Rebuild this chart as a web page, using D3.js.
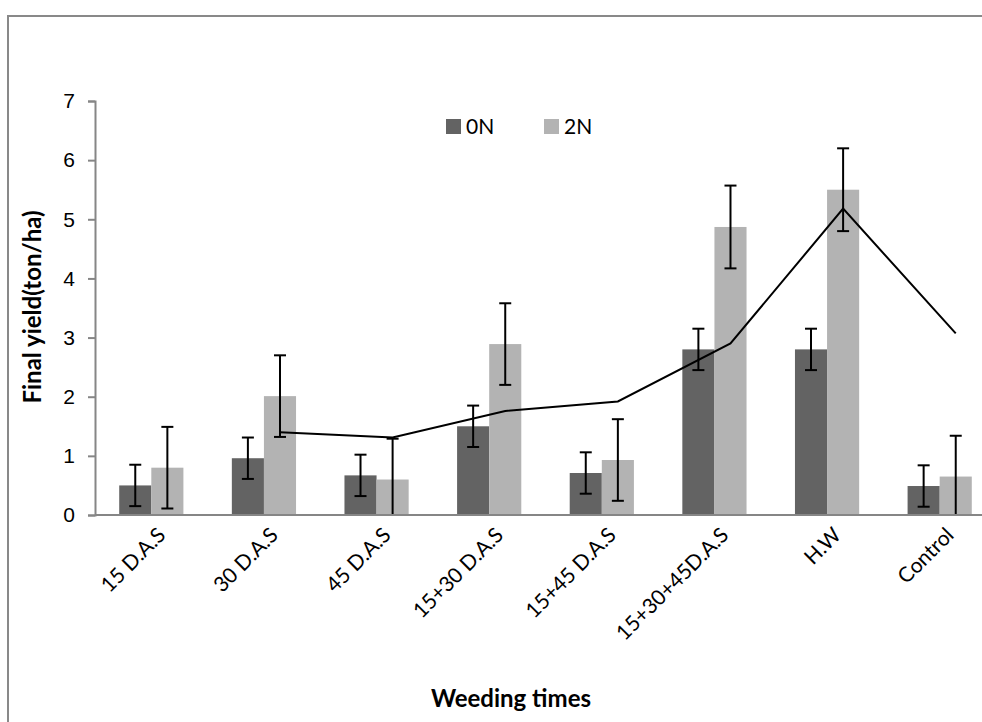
<!DOCTYPE html>
<html lang="en">

<head>
  <meta charset="UTF-8" />
  <title>Final yield by weeding times</title>
  <script src="https://d3js.org/d3.v7.min.js"></script>
  <style>
    body {
      margin: 0;
      background: #fff;
      font-family: Lato, "Open Sans", sans-serif;
    }

    .tick-label {
      font-size: 21px;
      fill: #000;
    }

    .axis-title {
      font-size: 24px;
      font-weight: bold;
      fill: #000;
    }
  </style>
</head>

<body>
  <div id="chart"></div>
  <script>
    // Values
    const categories = ["15 D.A.S", "30 D.A.S", "45 D.A.S", "15+30 D.A.S", "15+45 D.A.S",
      "15+30+45D.A.S", "H.W", "Control"];
    const seriesNames = ["0N", "2N"];
    const yield0N = [0.50, 0.96, 0.67, 1.50, 0.71, 2.80, 2.80, 0.49];
    const yield2N = [0.80, 2.01, 0.60, 2.89, 0.93, 4.87, 5.50, 0.65];
    const err0N = [0.35, 0.35, 0.35, 0.35, 0.35, 0.35, 0.35, 0.35];
    const err2N = [0.69, 0.69, 0.69, 0.69, 0.69, 0.70, 0.70, 0.69];
    // black trend line, plotted on the 2N bar positions (starts at 30 D.A.S)
    const trendValues = [null, 1.40, 1.31, 1.76, 1.92, 2.90, 5.18, 3.07];
    const yTicks = [0, 1, 2, 3, 4, 5, 6, 7];

    const W = 982, H = 722;
    const colors = { "0N": "#636363", "2N": "#b3b3b3" };

    const svg = d3.select("#chart").append("svg")
      .attr("width", W)
      .attr("height", H);

    // chart frame (right and bottom edges fall outside the picture)
    svg.append("path")
      .attr("d", `M8,${H + 5}V16H${W + 5}`)
      .attr("fill", "none")
      .attr("stroke", "#898989")
      .attr("stroke-width", 2);

    const x = d3.scaleBand()
      .domain(categories)
      .range([95, 996])
      .paddingInner(0.43)
      .paddingOuter(0.215);

    const xs = d3.scaleBand()
      .domain(seriesNames)
      .range([0, x.bandwidth()]);

    const y = d3.scaleLinear()
      .domain([0, 7])
      .range([515, 101]);

    // y axis
    svg.append("g")
      .attr("transform", "translate(95,0)")
      .call(d3.axisLeft(y).tickValues(yTicks).tickSize(7).tickPadding(13).tickFormat(d3.format("d")))
      .call(g => g.select(".domain").attr("stroke", "#868686").attr("stroke-width", 2))
      .call(g => g.selectAll(".tick line").attr("stroke", "#868686").attr("stroke-width", 2))
      .call(g => g.selectAll(".tick text").attr("class", "tick-label").attr("font-family", null).attr("font-size", null));

    const rows = categories.map((c, i) => ({
      cat: c,
      vals: [
        { s: "0N", v: yield0N[i], e: err0N[i] },
        { s: "2N", v: yield2N[i], e: err2N[i] }
      ]
    }));

    const groups = svg.selectAll(".grp")
      .data(rows)
      .enter()
      .append("g")
      .attr("class", "grp")
      .attr("transform", d => `translate(${x(d.cat)},0)`);

    groups.selectAll("rect")
      .data(d => d.vals)
      .enter()
      .append("rect")
      .attr("x", d => xs(d.s))
      .attr("y", d => y(d.v))
      .attr("width", xs.bandwidth())
      .attr("height", d => y(0) - y(d.v))
      .attr("fill", d => colors[d.s]);

    // x axis line drawn over the bars
    svg.append("line")
      .attr("x1", 95).attr("x2", W + 5)
      .attr("y1", y(0)).attr("y2", y(0))
      .attr("stroke", "#868686")
      .attr("stroke-width", 2);

    // error bars, clipped at the axis like in the original
    const capHalf = 6;
    groups.each(function (d) {
      const g = d3.select(this);
      d.vals.forEach(v => {
        const cx = xs(v.s) + xs.bandwidth() / 2;
        const hi = v.v + v.e;
        const lo = Math.max(0, v.v - v.e);
        g.append("line")
          .attr("x1", cx).attr("x2", cx)
          .attr("y1", y(hi)).attr("y2", y(lo))
          .attr("stroke", "#000").attr("stroke-width", 2);
        g.append("line")
          .attr("x1", cx - capHalf).attr("x2", cx + capHalf)
          .attr("y1", y(hi)).attr("y2", y(hi))
          .attr("stroke", "#000").attr("stroke-width", 2);
        if (v.v - v.e >= 0) {
          g.append("line")
            .attr("x1", cx - capHalf).attr("x2", cx + capHalf)
            .attr("y1", y(lo)).attr("y2", y(lo))
            .attr("stroke", "#000").attr("stroke-width", 2);
        }
      });
    });

    // trend line
    const linePts = categories.map((c, i) => ({ c, v: trendValues[i] }))
      .filter(d => d.v !== null);
    svg.append("path")
      .datum(linePts)
      .attr("fill", "none")
      .attr("stroke", "#000")
      .attr("stroke-width", 2)
      .attr("d", d3.line()
        .x(d => x(d.c) + xs("2N") + xs.bandwidth() / 2)
        .y(d => y(d.v)));

    // x tick labels, rotated
    svg.selectAll(".xlab")
      .data(categories)
      .enter()
      .append("text")
      .attr("class", "tick-label")
      .attr("text-anchor", "end")
      .attr("transform", d => `translate(${x(d) + x.bandwidth() / 2 + 5},${y(0) + 11}) rotate(-45)`)
      .attr("dy", "0.7em")
      .text(d => d);

    // axis titles
    svg.append("text")
      .attr("class", "axis-title")
      .attr("text-anchor", "middle")
      .attr("x", 511)
      .attr("y", 707)
      .text("Weeding times");

    svg.append("text")
      .attr("class", "axis-title")
      .attr("text-anchor", "middle")
      .attr("transform", "translate(41,307) rotate(-90)")
      .text("Final yield(ton/ha)");

    // legend
    const legend = svg.selectAll(".leg")
      .data(seriesNames)
      .enter()
      .append("g")
      .attr("class", "leg")
      .attr("transform", (d, i) => `translate(${446 + i * 98},119)`);
    legend.append("rect")
      .attr("width", 15).attr("height", 15)
      .attr("fill", d => colors[d]);
    legend.append("text")
      .attr("class", "tick-label")
      .attr("x", 20)
      .attr("y", 15)
      .text(d => d);
  </script>
</body>

</html>
